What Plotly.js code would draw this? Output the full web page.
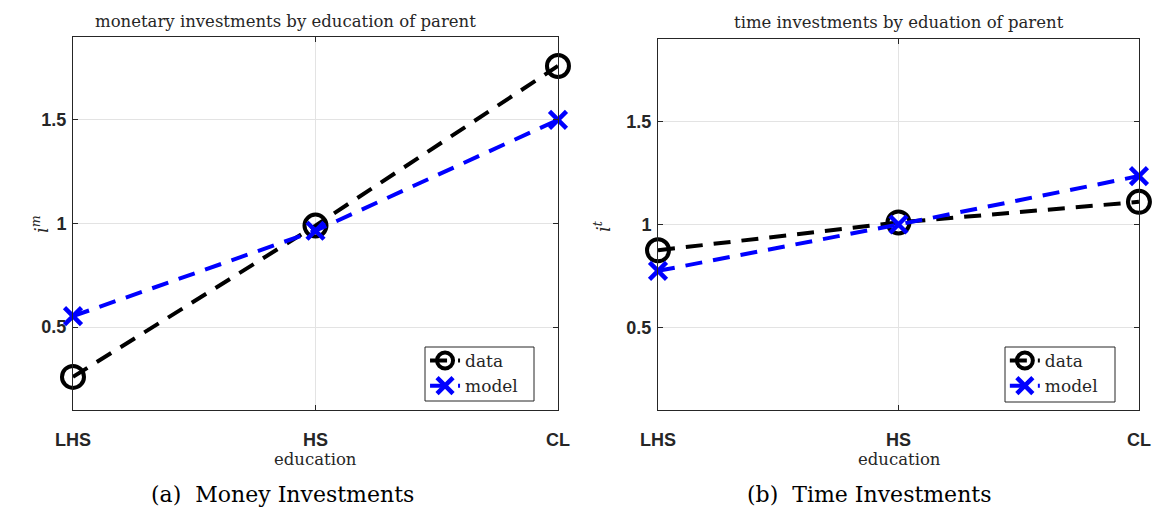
<!DOCTYPE html>
<html>
<head>
<meta charset="utf-8">
<script src="https://cdn.plot.ly/plotly-3.0.1.min.js"></script>
<style>html,body{margin:0;padding:0;background:#fff;}#chart{width:1155px;height:510px;}</style>
</head>
<body>
<div id="chart"></div>
<script>
const categories = ["LHS", "HS", "CL"];
const moneyData = [0.26, 0.99, 1.76];
const moneyModel = [0.553, 0.965, 1.50];
const timeData = [0.875, 1.01, 1.11];
const timeModel = [0.775, 1.0, 1.235];
const yTickVals = [0.5, 1, 1.5];
const yTickText = ["0.5", "1", "1.5"];

const serif = "DejaVu Serif, Liberation Serif, serif";
const sans = "Liberation Sans, Arial, sans-serif";

const dataStyle = {
  mode: "lines+markers",
  line: {color: "#000000", width: 4, dash: "17px,11px"},
  marker: {symbol: "circle-open", size: 22, color: "#000000", line: {width: 4, color: "#000000"}},
  cliponaxis: false
};
const modelStyle = {
  mode: "lines+markers",
  line: {color: "#0000ff", width: 4, dash: "17px,11px"},
  marker: {symbol: "x-thin-open", size: 17, color: "#0000ff", line: {width: 4.5, color: "#0000ff"}},
  cliponaxis: false
};

const traces = [
  Object.assign({x: categories, y: moneyData, name: "data", xaxis: "x", yaxis: "y", legend: "legend"}, dataStyle),
  Object.assign({x: categories, y: moneyModel, name: "model", xaxis: "x", yaxis: "y", legend: "legend"}, modelStyle),
  Object.assign({x: categories, y: timeData, name: "data", xaxis: "x2", yaxis: "y2", legend: "legend2"}, dataStyle),
  Object.assign({x: categories, y: timeModel, name: "model", xaxis: "x2", yaxis: "y2", legend: "legend2"}, modelStyle)
];

function xAxis(domain, anchor) {
  return {
    domain: domain, anchor: anchor, type: "category", range: [0, 2],
    showline: true, linecolor: "#262626", linewidth: 1, mirror: "ticks",
    ticks: "inside", ticklen: 5, tickcolor: "#262626",
    showgrid: true, gridcolor: "#e3e3e3", gridwidth: 1, zeroline: false,
    tickfont: {family: sans, size: 18, color: "#262626", weight: "bold"},
    ticklabelstandoff: 13
  };
}
function yAxis(domain, anchor) {
  return {
    domain: domain, anchor: anchor, range: [0.1, 1.9],
    tickvals: yTickVals, ticktext: yTickText,
    showline: true, linecolor: "#262626", linewidth: 1, mirror: "ticks",
    ticks: "inside", ticklen: 5, tickcolor: "#262626",
    showgrid: true, gridcolor: "#e3e3e3", gridwidth: 1, zeroline: false,
    tickfont: {family: sans, size: 18, color: "#262626", weight: "bold"},
    ticklabelstandoff: 2
  };
}

const legendStyle = {
  xanchor: "left", yanchor: "top",
  bgcolor: "rgba(0,0,0,0)", borderwidth: 0,
  font: {family: serif, size: 17, color: "#262626"},
  itemwidth: 30, tracegroupgap: 0
};

const ann = (text, x, y, size, color, extra) => Object.assign({
  text: text, xref: "paper", yref: "paper", x: x / 1155, y: 1 - y / 510,
  xanchor: "center", yanchor: "middle", showarrow: false,
  font: {family: serif, size: size, color: color}
}, extra || {});

const box = (x0, x1, y0, y1) => ({
  type: "rect", xref: "paper", yref: "paper", layer: "above",
  x0: x0 / 1155, x1: x1 / 1155, y0: 1 - y1 / 510, y1: 1 - y0 / 510,
  line: {color: "#262626", width: 1}, fillcolor: "#ffffff"
});

const layout = {
  width: 1155, height: 510,
  margin: {l: 0, r: 0, t: 0, b: 0},
  paper_bgcolor: "#ffffff", plot_bgcolor: "#ffffff",
  showlegend: true,
  xaxis: xAxis([0.0632, 0.4831], "y"),
  yaxis: yAxis([0.196, 0.9275], "x"),
  xaxis2: xAxis([0.5697, 0.9861], "y2"),
  yaxis2: yAxis([0.196, 0.9235], "x2"),
  legend: Object.assign({x: 0.368, y: 1 - 343/510}, legendStyle),
  legend2: Object.assign({x: 0.870, y: 1 - 343/510}, legendStyle),
  shapes: [box(425, 534, 347, 401), box(1005, 1115, 347, 402)],
  annotations: [
    ann("monetary investments by education of parent", 285, 22, 16.5, "#262626"),
    ann("time investments by eduation of parent", 899, 23, 16.5, "#262626"),
    ann("education", 315, 459, 16.5, "#262626"),
    ann("education", 899, 459, 16.5, "#262626"),
    ann("<i>i</i><sup><i>m</i></sup>", 40, 224, 18, "#262626", {textangle: -90}),
    ann("<i>i</i><sup><i>t</i></sup>", 602, 226, 18, "#262626", {textangle: -90}),
    ann("(a)  Money Investments", 282, 494, 22, "#000000"),
    ann("(b)  Time Investments", 869, 494, 22, "#000000")
  ]
};

Plotly.newPlot("chart", traces, layout, {staticPlot: true, displayModeBar: false});
</script>
</body>
</html>
